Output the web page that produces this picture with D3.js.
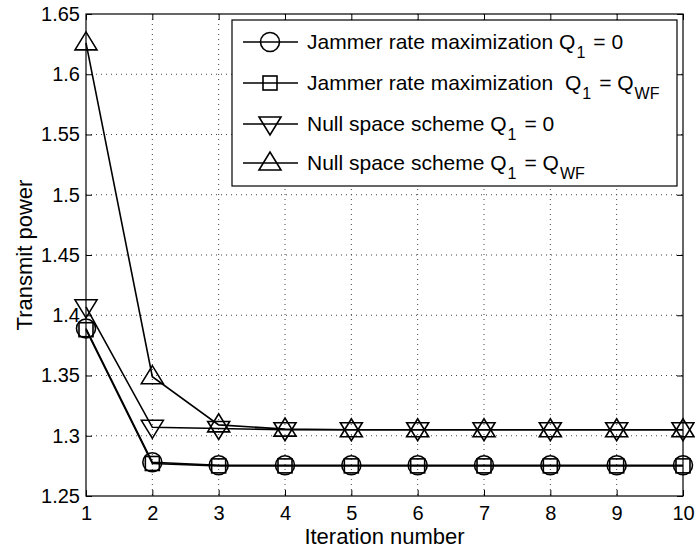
<!DOCTYPE html>
<html>
<head>
<meta charset="utf-8">
<script src="https://cdn.jsdelivr.net/npm/d3@7"></script>
<style>
  body { margin: 0; background: #fff; }
  text { font-family: Arial, "Liberation Sans", Helvetica, sans-serif; }
</style>
</head>
<body>
<div id="chart"></div>
<script>
var iterations = [1, 2, 3, 4, 5, 6, 7, 8, 9, 10];
var jammerZero = [1.389, 1.278, 1.2755, 1.2755, 1.2755, 1.2755, 1.2755, 1.2755, 1.2755, 1.2755];
var jammerWF   = [1.388, 1.277, 1.275, 1.275, 1.275, 1.275, 1.275, 1.275, 1.275, 1.275];
var nullZero   = [1.407, 1.307, 1.306, 1.305, 1.305, 1.305, 1.305, 1.305, 1.305, 1.305];
var nullWF     = [1.626, 1.349, 1.309, 1.3055, 1.305, 1.305, 1.305, 1.305, 1.305, 1.305];
var yTicks = [1.25, 1.3, 1.35, 1.4, 1.45, 1.5, 1.55, 1.6, 1.65];

var series = [
  {name: "Jammer rate maximization Q", sub: "1", rest: "= 0", sub2: "", values: jammerZero, marker: "circle"},
  {name: "Jammer rate maximization  Q", sub: "1", rest: "= Q", sub2: "WF", values: jammerWF, marker: "square"},
  {name: "Null space scheme Q", sub: "1", rest: "= 0", sub2: "", values: nullZero, marker: "down"},
  {name: "Null space scheme Q", sub: "1", rest: "= Q", sub2: "WF", values: nullWF, marker: "up"}
];

var w = 695, h = 549;
var padL = 86, padR = 683, padT = 14, padB = 496;

var svg = d3.select("#chart").append("svg")
  .attr("width", w)
  .attr("height", h);

var x = d3.scaleLinear().domain([1, 10]).range([padL, padR]);
var y = d3.scaleLinear().domain([1.25, 1.65]).range([padB, padT]);

// grid
svg.append("g").selectAll("line")
  .data(iterations.slice(1, -1))
  .enter().append("line")
  .attr("x1", function(d){ return x(d); })
  .attr("x2", function(d){ return x(d); })
  .attr("y1", padT).attr("y2", padB)
  .attr("stroke", "#444").attr("stroke-width", 1)
  .attr("stroke-dasharray", "1,4");

svg.append("g").selectAll("line")
  .data(yTicks.slice(1, -1))
  .enter().append("line")
  .attr("y1", function(d){ return y(d); })
  .attr("y2", function(d){ return y(d); })
  .attr("x1", padL).attr("x2", padR)
  .attr("stroke", "#444").attr("stroke-width", 1)
  .attr("stroke-dasharray", "1,4");

// axes, ticks inward
var xAxis = d3.axisBottom(x).tickValues(iterations).tickSize(-6).tickPadding(10).tickFormat(d3.format("d"));
var yAxis = d3.axisLeft(y).tickValues(yTicks).tickSize(-6).tickPadding(6).tickFormat(function(d){ return String(+d.toFixed(2)); });

svg.append("g").attr("transform", "translate(0," + padB + ")").call(xAxis);
svg.append("g").attr("transform", "translate(" + padL + ",0)").call(yAxis);
svg.append("g").attr("transform", "translate(0," + padT + ")")
  .call(d3.axisTop(x).tickValues(iterations).tickSize(-6).tickFormat(""));
svg.append("g").attr("transform", "translate(" + padR + ",0)")
  .call(d3.axisRight(y).tickValues(yTicks).tickSize(-6).tickFormat(""));

svg.selectAll(".domain").remove();
svg.selectAll(".tick line").attr("stroke", "#000");
svg.selectAll(".tick text").attr("font-size", 20).attr("fill", "#000")
  .style("font-family", "Arial, 'Liberation Sans', sans-serif");

svg.append("rect")
  .attr("x", padL).attr("y", padT)
  .attr("width", padR - padL).attr("height", padB - padT)
  .attr("fill", "none").attr("stroke", "#000").attr("stroke-width", 1.2);

// axis labels
svg.append("text")
  .attr("x", (padL + padR) / 2).attr("y", 544)
  .attr("text-anchor", "middle").attr("font-size", 22)
  .text("Iteration number");

svg.append("text")
  .attr("transform", "translate(32," + ((padT + padB) / 2) + ") rotate(-90)")
  .attr("text-anchor", "middle").attr("font-size", 22)
  .text("Transmit power");

// markers
function drawMarker(g, type, cx, cy) {
  if (type === "circle") {
    g.append("circle").attr("cx", cx).attr("cy", cy).attr("r", 9.5);
  } else if (type === "square") {
    g.append("rect").attr("x", cx - 7).attr("y", cy - 7).attr("width", 14).attr("height", 14);
  } else if (type === "down") {
    g.append("path").attr("d", "M" + (cx - 11) + "," + (cy - 7) + "L" + (cx + 11) + "," + (cy - 7) + "L" + cx + "," + (cy + 11) + "Z");
  } else {
    g.append("path").attr("d", "M" + (cx - 11) + "," + (cy + 7) + "L" + (cx + 11) + "," + (cy + 7) + "L" + cx + "," + (cy - 11) + "Z");
  }
}

var line = d3.line()
  .x(function(d, i){ return x(iterations[i]); })
  .y(function(d){ return y(d); });

series.forEach(function(s) {
  svg.append("path")
    .datum(s.values)
    .attr("d", line)
    .attr("fill", "none")
    .attr("stroke", "#000")
    .attr("stroke-width", 1.6);
  var g = svg.append("g").attr("fill", "none").attr("stroke", "#000").attr("stroke-width", 1.6);
  s.values.forEach(function(v, i) {
    drawMarker(g, s.marker, x(iterations[i]), y(v));
  });
});

// legend
var lg = svg.append("g");
lg.append("rect")
  .attr("x", 232).attr("y", 20).attr("width", 445).attr("height", 166)
  .attr("fill", "#fff").attr("stroke", "#000").attr("stroke-width", 1.2);

var rowY = [42, 83, 124, 163];
series.forEach(function(s, i) {
  var yy = rowY[i];
  lg.append("line")
    .attr("x1", 243).attr("x2", 298).attr("y1", yy).attr("y2", yy)
    .attr("stroke", "#000").attr("stroke-width", 1.6);
  var mg = lg.append("g").attr("fill", "none").attr("stroke", "#000").attr("stroke-width", 1.6);
  drawMarker(mg, s.marker, 270, yy);
  var t = lg.append("text").attr("x", 307).attr("y", yy + 7).attr("font-size", 21)
    .style("white-space", "pre");
  t.append("tspan").text(s.name);
  t.append("tspan").attr("dx", 1).attr("dy", 9).attr("font-size", 16).text(s.sub);
  t.append("tspan").attr("dx", 8).attr("dy", -9).text(s.rest);
  if (s.sub2) {
    t.append("tspan").attr("dx", 1).attr("dy", 9).attr("font-size", 16).text(s.sub2);
  }
});
</script>
</body>
</html>
